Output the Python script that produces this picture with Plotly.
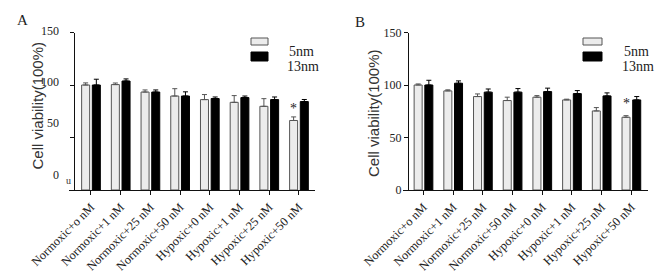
import plotly.graph_objects as go

categories = ["Normoxic+o nM", "Normoxic+1 nM", "Normoxic+25 nM", "Normoxic+50 nM",
              "Hypoxic+0 nM", "Hypoxic+1 nM", "Hypoxic+25 nM", "Hypoxic+50 nM"]
series_names = ["5nm", "13nm"]

# Panel A
a_5nm = [100, 100.4, 93.3, 89.5, 86.1, 83.5, 79.7, 66.2]
a_5nm_err = [2, 1.5, 2, 7, 4.8, 6.4, 7.3, 3.4]
a_13nm = [100, 103.8, 93.3, 89.5, 87.1, 88, 86.1, 84.2]
a_13nm_err = [5.5, 2, 2, 4, 1.5, 1.5, 2.5, 2]

# Panel B
b_5nm = [100, 94.4, 89, 85.2, 88.4, 85.8, 75.3, 69.3]
b_5nm_err = [1, 1, 2.5, 3.2, 1.5, 0.7, 3.2, 1.5]
b_13nm = [100, 101.7, 93.2, 93.2, 93.7, 91.8, 89.6, 85.8]
b_13nm_err = [4.5, 2.2, 3, 3.4, 3.3, 2.9, 2.9, 3.2]

star_a = 78
star_b = 82.7
yticks = [0, 50, 100, 150]

W, H = 655, 276
def px(x):
    return x / W
def py(y):
    return 1 - y / H

SERIF = "Liberation Serif"
SANS = "Liberation Sans"
LIGHT = "#ececec"
EDGE = "#555555"

fig = go.Figure()

def add_pair(v5, e5, v13, e13, xa, ya):
    fig.add_trace(go.Bar(x=categories, y=v5, name=series_names[0], xaxis=xa, yaxis=ya,
                         marker=dict(color=LIGHT, line=dict(color=EDGE, width=1)),
                         error_y=dict(type="data", symmetric=False, array=e5,
                                      arrayminus=[0]*len(e5), color=EDGE, thickness=1, width=2.5),
                         showlegend=False))
    fig.add_trace(go.Bar(x=categories, y=v13, name=series_names[1], xaxis=xa, yaxis=ya,
                         marker=dict(color="#000000", line=dict(color="#000000", width=1)),
                         error_y=dict(type="data", symmetric=False, array=e13,
                                      arrayminus=[0]*len(e13), color="#000000", thickness=1, width=2.5),
                         showlegend=False))

add_pair(a_5nm, a_5nm_err, a_13nm, a_13nm_err, "x", "y")
add_pair(b_5nm, b_5nm_err, b_13nm, b_13nm_err, "x2", "y2")

ydom = [py(190), py(32.5)]
xcommon = dict(type="category", showline=True, linecolor="#111", linewidth=1.3,
               ticks="outside", ticklen=4, tickcolor="#111", tickwidth=1.2,
               tickangle=-45, tickfont=dict(family=SERIF, size=12.3, color="#222"),
               showgrid=False, zeroline=False, fixedrange=True, automargin=False)
ycommon = dict(range=[0, 150], showline=True, linecolor="#111", linewidth=1.3,
               ticks="outside", ticklen=4, tickcolor="#111", tickwidth=1.2,
               tickvals=yticks, showgrid=False, zeroline=False, automargin=False,
               tickfont=dict(family=SERIF, size=12, color="#222"), anchor="free")

fig.update_layout(
    template="none",
    width=W, height=H, margin=dict(l=0, r=0, t=0, b=0, autoexpand=False),
    paper_bgcolor="white", plot_bgcolor="white",
    barmode="group", bargap=0.28, bargroupgap=0.25,
    xaxis=dict(domain=[px(69), px(315)], range=[-0.74, 7.54], anchor="y", **xcommon),
    yaxis=dict(domain=ydom, position=px(74), showticklabels=False, **ycommon),
    xaxis2=dict(domain=[px(403), px(648)], range=[-0.69, 7.56], anchor="y2", **xcommon),
    yaxis2=dict(domain=ydom, position=px(408), showticklabels=True, **ycommon),
)

ann = []
# Panel letters
ann.append(dict(x=px(15), y=py(10), xref="paper", yref="paper", text="A", showarrow=False,
                font=dict(family=SERIF, size=15, color="#222")))
ann.append(dict(x=px(360), y=py(12), xref="paper", yref="paper", text="B", showarrow=False,
                font=dict(family=SERIF, size=15, color="#222")))
# Y axis titles
for xx, yy in [(27, 106), (373, 113)]:
    ann.append(dict(x=px(xx), y=py(yy), xref="paper", yref="paper", text="Cell viability(100%)",
                    textangle=-90, showarrow=False, font=dict(family=SANS, size=15, color="#333")))
# Panel A tick labels (shifted upward in the original)
for val, yy in zip(yticks, [175, 123, 72.7, 22]):
    ann.append(dict(x=px(61), y=py(yy), xref="paper", yref="paper", text=str(val),
                    xanchor="right", showarrow=False, font=dict(family=SERIF, size=12, color="#222")))
ann.append(dict(x=px(64), y=py(188), xref="paper", yref="paper", text="u",
                showarrow=False, font=dict(family=SERIF, size=10, color="#333")))
# Stars
ann.append(dict(x=7, y=star_a, xref="x", yref="y", text="*", xshift=-5, showarrow=False,
                font=dict(family=SERIF, size=14, color="#222")))
ann.append(dict(x=7, y=star_b, xref="x2", yref="y2", text="*", xshift=-5, showarrow=False,
                font=dict(family=SERIF, size=14, color="#222")))

# Legends
shapes = []
for bx0, bx1, tx5, tx13 in [(251, 268, 287, 285), (583, 602, 622, 620)]:
    shapes.append(dict(type="rect", xref="paper", yref="paper", x0=px(bx0), x1=px(bx1),
                       y0=py(45), y1=py(38), fillcolor=LIGHT, line=dict(color=EDGE, width=1)))
    shapes.append(dict(type="rect", xref="paper", yref="paper", x0=px(bx0), x1=px(bx1),
                       y0=py(61), y1=py(52), fillcolor="#000", line=dict(color="#000", width=1)))
    ann.append(dict(x=px(tx5), y=py(42), xref="paper", yref="paper", text=series_names[0],
                    xanchor="left", showarrow=False, font=dict(family=SERIF, size=14, color="#222")))
    ann.append(dict(x=px(tx13), y=py(57), xref="paper", yref="paper", text=series_names[1],
                    xanchor="left", showarrow=False, font=dict(family=SERIF, size=14, color="#222")))

fig.update_layout(annotations=ann, shapes=shapes)
fig.write_html("out.html", config={"displayModeBar": False},
               post_script="document.body.style.margin='0';document.body.style.padding='0';")
